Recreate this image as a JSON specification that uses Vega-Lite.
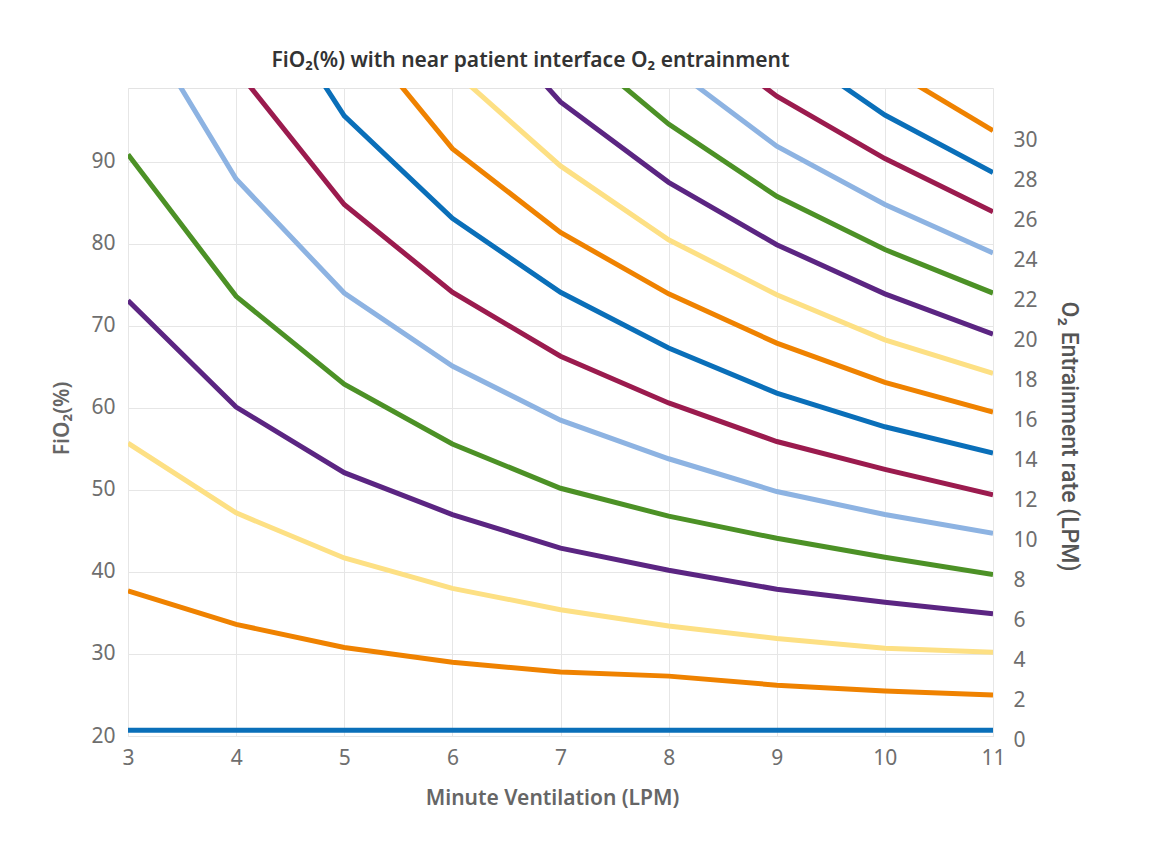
{
  "$schema": "https://vega.github.io/schema/vega-lite/v6.json",
  "width": 865,
  "height": 648,
  "autosize": "none",
  "padding": {"left": 128, "top": 88, "right": 180, "bottom": 110},
  "background": "white",
  "config": {
    "font": "Noto Sans",
    "view": {"stroke": "#e3e3e3", "strokeWidth": 1},
    "axis": {
      "domain": false,
      "ticks": false,
      "labelFont": "Noto Sans",
      "labelFontSize": 21,
      "labelColor": "#6e6e6e",
      "titleFont": "Noto Sans",
      "titleFontSize": 21,
      "titleFontWeight": 600,
      "titleColor": "#666666",
      "gridColor": "#e6e6e6",
      "gridWidth": 1
    }
  },
  "title": {
    "text": "FiO₂(%) with near patient interface O₂ entrainment",
    "fontSize": 21,
    "fontWeight": 600,
    "color": "#333333",
    "font": "Noto Sans",
    "anchor": "middle",
    "dx": -30,
    "offset": 17
  },
  "data": {
    "values": [
      {"mv": 3, "rate": 0, "fio2": 20.7}, {"mv": 4, "rate": 0, "fio2": 20.7}, {"mv": 5, "rate": 0, "fio2": 20.7}, {"mv": 6, "rate": 0, "fio2": 20.7}, {"mv": 7, "rate": 0, "fio2": 20.7}, {"mv": 8, "rate": 0, "fio2": 20.7}, {"mv": 9, "rate": 0, "fio2": 20.7}, {"mv": 10, "rate": 0, "fio2": 20.7}, {"mv": 11, "rate": 0, "fio2": 20.7},
      {"mv": 3, "rate": 2, "fio2": 37.7}, {"mv": 4, "rate": 2, "fio2": 33.6}, {"mv": 5, "rate": 2, "fio2": 30.8}, {"mv": 6, "rate": 2, "fio2": 29.0}, {"mv": 7, "rate": 2, "fio2": 27.8}, {"mv": 8, "rate": 2, "fio2": 27.3}, {"mv": 9, "rate": 2, "fio2": 26.2}, {"mv": 10, "rate": 2, "fio2": 25.5}, {"mv": 11, "rate": 2, "fio2": 25.0},
      {"mv": 3, "rate": 4, "fio2": 55.7}, {"mv": 4, "rate": 4, "fio2": 47.2}, {"mv": 5, "rate": 4, "fio2": 41.7}, {"mv": 6, "rate": 4, "fio2": 38.0}, {"mv": 7, "rate": 4, "fio2": 35.4}, {"mv": 8, "rate": 4, "fio2": 33.4}, {"mv": 9, "rate": 4, "fio2": 31.9}, {"mv": 10, "rate": 4, "fio2": 30.7}, {"mv": 11, "rate": 4, "fio2": 30.2},
      {"mv": 3, "rate": 6, "fio2": 73.1}, {"mv": 4, "rate": 6, "fio2": 60.1}, {"mv": 5, "rate": 6, "fio2": 52.1}, {"mv": 6, "rate": 6, "fio2": 47.0}, {"mv": 7, "rate": 6, "fio2": 42.9}, {"mv": 8, "rate": 6, "fio2": 40.2}, {"mv": 9, "rate": 6, "fio2": 37.9}, {"mv": 10, "rate": 6, "fio2": 36.3}, {"mv": 11, "rate": 6, "fio2": 34.9},
      {"mv": 3, "rate": 8, "fio2": 90.9}, {"mv": 4, "rate": 8, "fio2": 73.6}, {"mv": 5, "rate": 8, "fio2": 62.9}, {"mv": 6, "rate": 8, "fio2": 55.6}, {"mv": 7, "rate": 8, "fio2": 50.2}, {"mv": 8, "rate": 8, "fio2": 46.8}, {"mv": 9, "rate": 8, "fio2": 44.1}, {"mv": 10, "rate": 8, "fio2": 41.8}, {"mv": 11, "rate": 8, "fio2": 39.7},
      {"mv": 3, "rate": 10, "fio2": 109.7}, {"mv": 4, "rate": 10, "fio2": 87.9}, {"mv": 5, "rate": 10, "fio2": 74.0}, {"mv": 6, "rate": 10, "fio2": 65.1}, {"mv": 7, "rate": 10, "fio2": 58.5}, {"mv": 8, "rate": 10, "fio2": 53.8}, {"mv": 9, "rate": 10, "fio2": 49.8}, {"mv": 10, "rate": 10, "fio2": 47.0}, {"mv": 11, "rate": 10, "fio2": 44.7},
      {"mv": 4, "rate": 12, "fio2": 101.3}, {"mv": 5, "rate": 12, "fio2": 84.8}, {"mv": 6, "rate": 12, "fio2": 74.1}, {"mv": 7, "rate": 12, "fio2": 66.3}, {"mv": 8, "rate": 12, "fio2": 60.6}, {"mv": 9, "rate": 12, "fio2": 55.9}, {"mv": 10, "rate": 12, "fio2": 52.5}, {"mv": 11, "rate": 12, "fio2": 49.4},
      {"mv": 4, "rate": 14, "fio2": 116.0}, {"mv": 5, "rate": 14, "fio2": 95.6}, {"mv": 6, "rate": 14, "fio2": 83.1}, {"mv": 7, "rate": 14, "fio2": 74.1}, {"mv": 8, "rate": 14, "fio2": 67.3}, {"mv": 9, "rate": 14, "fio2": 61.8}, {"mv": 10, "rate": 14, "fio2": 57.7}, {"mv": 11, "rate": 14, "fio2": 54.5},
      {"mv": 5, "rate": 16, "fio2": 107.7}, {"mv": 6, "rate": 16, "fio2": 91.6}, {"mv": 7, "rate": 16, "fio2": 81.4}, {"mv": 8, "rate": 16, "fio2": 73.9}, {"mv": 9, "rate": 16, "fio2": 67.9}, {"mv": 10, "rate": 16, "fio2": 63.1}, {"mv": 11, "rate": 16, "fio2": 59.5},
      {"mv": 6, "rate": 18, "fio2": 101.2}, {"mv": 7, "rate": 18, "fio2": 89.5}, {"mv": 8, "rate": 18, "fio2": 80.5}, {"mv": 9, "rate": 18, "fio2": 73.8}, {"mv": 10, "rate": 18, "fio2": 68.3}, {"mv": 11, "rate": 18, "fio2": 64.2},
      {"mv": 6, "rate": 20, "fio2": 112.0}, {"mv": 7, "rate": 20, "fio2": 97.3}, {"mv": 8, "rate": 20, "fio2": 87.5}, {"mv": 9, "rate": 20, "fio2": 79.9}, {"mv": 10, "rate": 20, "fio2": 73.9}, {"mv": 11, "rate": 20, "fio2": 69.0},
      {"mv": 7, "rate": 22, "fio2": 105.6}, {"mv": 8, "rate": 22, "fio2": 94.6}, {"mv": 9, "rate": 22, "fio2": 85.8}, {"mv": 10, "rate": 22, "fio2": 79.3}, {"mv": 11, "rate": 22, "fio2": 74.0},
      {"mv": 8, "rate": 24, "fio2": 101.8}, {"mv": 9, "rate": 24, "fio2": 91.9}, {"mv": 10, "rate": 24, "fio2": 84.8}, {"mv": 11, "rate": 24, "fio2": 78.9},
      {"mv": 8, "rate": 26, "fio2": 108.0}, {"mv": 9, "rate": 26, "fio2": 98.0}, {"mv": 10, "rate": 26, "fio2": 90.4}, {"mv": 11, "rate": 26, "fio2": 83.9},
      {"mv": 9, "rate": 28, "fio2": 104.8}, {"mv": 10, "rate": 28, "fio2": 95.7}, {"mv": 11, "rate": 28, "fio2": 88.7},
      {"mv": 10, "rate": 30, "fio2": 101.7}, {"mv": 11, "rate": 30, "fio2": 93.8}
    ]
  },
  "layer": [
    {
      "mark": {"type": "line", "strokeWidth": 5, "clip": true},
      "encoding": {
        "x": {
          "field": "mv",
          "type": "quantitative",
          "scale": {"domain": [3, 11], "nice": false, "zero": false},
          "axis": {
            "values": [3, 4, 5, 6, 7, 8, 9, 10, 11],
            "format": "d",
            "title": "Minute Ventilation (LPM)",
            "labelPadding": 11,
            "titlePadding": 19,
            "titleX": 424,
            "titleAlign": "center",
            "grid": true,
            "labelFlush": false
          }
        },
        "y": {
          "field": "fio2",
          "type": "quantitative",
          "scale": {"domain": [20, 99], "nice": false, "zero": false},
          "axis": {
            "values": [20, 30, 40, 50, 60, 70, 80, 90],
            "title": "FiO₂(%)",
            "orient": "left",
            "labelPadding": 13,
            "grid": true,
            "labelFlush": false,
            "titleAngle": -90,
            "titleX": -66,
            "titleY": 330,
            "titleAlign": "center",
            "titleBaseline": "middle"
          }
        },
        "color": {
          "field": "rate",
          "type": "ordinal",
          "scale": {
            "domain": [0, 2, 4, 6, 8, 10, 12, 14, 16, 18, 20, 22, 24, 26, 28, 30],
            "range": ["#0a6fb9", "#ef8200", "#fde084", "#5b2582", "#4c9126", "#8db3e2", "#9b1b4e", "#0a6fb9", "#ef8200", "#fde084", "#5b2582", "#4c9126", "#8db3e2", "#9b1b4e", "#0a6fb9", "#ef8200"]
          },
          "legend": null
        },
        "order": {"field": "mv", "type": "quantitative"}
      }
    },
    {
      "mark": {"type": "point", "opacity": 0},
      "encoding": {
        "x": {"field": "mv", "type": "quantitative"},
        "y": {
          "field": "rate",
          "type": "quantitative",
          "scale": {"domain": [0, 32.45], "nice": false, "zero": false},
          "axis": {
            "orient": "right",
            "values": [0, 2, 4, 6, 8, 10, 12, 14, 16, 18, 20, 22, 24, 26, 28, 30],
            "title": "O₂ Entrainment rate (LPM)",
            "grid": false,
            "labelPadding": 20,
            "labelOffset": 4,
            "labelFlush": false,
            "titleFont": "Roboto",
            "titleFontSize": 23,
            "titleFontWeight": 500,
            "titleColor": "#555555",
            "titleAngle": 90,
            "titleX": 75,
            "titleY": 348,
            "titleAlign": "center",
            "titleBaseline": "middle"
          }
        }
      }
    }
  ],
  "resolve": {"scale": {"y": "independent"}, "axis": {"y": "independent"}}
}
